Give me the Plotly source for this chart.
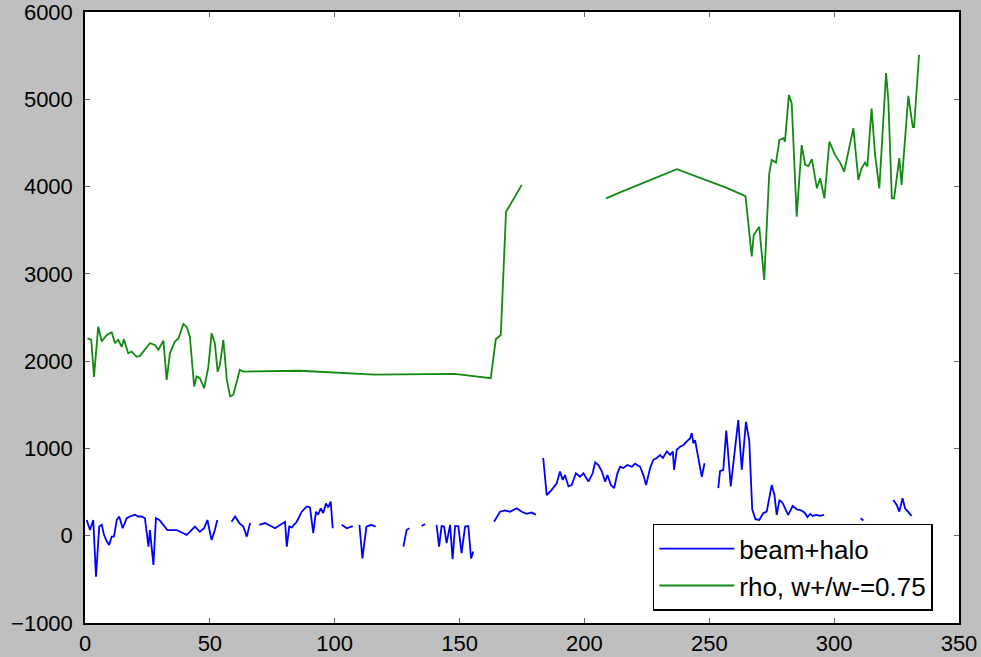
import plotly.graph_objects as go

# ---- data ----
beam_x = [0.7, 2, 3.3, 4.4, 5.7, 6.7, 7.6, 8.7, 9.7, 10.7, 11.6, 12.7, 13.7, 15.1, 16.7, 18, 20, 21.3, 22.7, 24,
          25.4, 26, 27.4, 28.4, 29.8, 31.4, 33, 36.7, 40.7, 42, 44, 46, 47.7, 49, 50.7, 52, 53, None,
          58.7, 60.1, 61.8, 63.4, 64.8, 66.1, None,
          69.8, 72.1, 74.8, 76.1, 80.1, 80.8, 81.8, 82.8, 84.8, 86.8, 88.8, 90.1, 91.4, 92.5, 93.4, 94.4, 95.4,
          96.5, 97.4, 98.4, 99.2, None,
          102.8, 104.8, 107.2, None,
          109.9, 111.1, 112.7, 114.7, 116.4, None,
          127.5, 128.8, 129.9, None,
          134.8, 136.2, None,
          140.8, 141.8, 142.8, 143.8, 144.8, 146.2, 147.2, 148.2, 149.5, 150.8, 152.2, 153.5, 154.6, 155.5, None,
          163.8, 164.9, 166.2, 168.2, 170.2, 172.9, 174.9, 176.9, 178.9, 180.6, None,
          183.5, 184.9, 186.9, 188.9, 190.2, 191.3, 192.2, 193.6, 194.9, 196.6, 198.2, 199.6, 201.6, 203.3, 204.3,
          205.6, 207, 208.3, 209.2, 210.6, 211.9, 213.2, 214.3, 215.6, 217.2, 219, 220.3, 222.3, 223.6, 224.7,
          226.3, 227.6, 229, 230.3, 231.4, 233, 234.3, 235.4, 235.9, 237, 238.3, 239.7, 241, 242.3, 243, 243.6,
          244.3, 245, 246, 247, 248.1, None,
          253.6, 254.3, 255.6, 256.8, 258.6, 261.6, 263, 264.7, 266, 267.2, 268.5, 270, 271.6, 273, 275, 276.1,
          277, 278.1, 279.4, 280.7, 281.6, 283.4, 285, 287, 288.4, 289.3, 290.4, 291.4, 292.8, 294.4, 296, None,
          310.6, 311.7, None,
          323.7, 325, 326.1, 327.4, 328.4, 329.7, 331]
beam_y = [180, 65, 180, -470, 105, 125, 10, -65, -105, -10, -10, 180, 220, 85, 200, 220, 240, 220, 220, 200,
          -125, 65, -335, 200, 180, 125, 65, 65, 10, 45, 105, 45, 85, 180, -50, 65, 180, None,
          160, 220, 145, 105, -10, 145, None,
          125, 145, 105, 85, 160, -125, 105, 95, 160, 275, 335, 325, 30, 275, 240, 315, 260,
          370, 325, 390, 85, None,
          125, 85, 110, None,
          125, -260, 105, 125, 105, None,
          -125, 65, 85, None,
          110, 135, None,
          125, -125, 110, 105, -85, 125, -270, 110, 110, -200, 105, 110, -260, -180, None,
          160, 220, 275, 290, 275, 315, 275, 250, 265, 240, None,
          890, 465, 525, 600, 735, 640, 695, 565, 580, 715, 675, 715, 620, 715, 840,
          810, 735, 620, 695, 580, 545, 715, 790, 775, 810, 790, 825, 790, 695, 580,
          775, 870, 890, 925, 890, 965, 925, 965, 755, 985, 1020, 1040, 1080, 1115, 1175, 1060,
          1095, 985, 870, 675, 830, None,
          545, 740, 755, 1205, 565, 1325, 755, 1305, 1090, 300, 190, 180, 258, 276, 580, 467,
          238, 410, 372, 296, 238, 341, 303, 288, 258, 212, 250, 227, 238, 227, 238, None,
          200, 175, None,
          410, 355, 276, 430, 315, 265, 227]

rho_x = [1, 2.5, 3.6, 5.3, 6.7, 8.7, 10.7, 12, 13.3, 14.7, 15.6, 17.3, 18.7, 20.7, 22, 24, 26, 28, 29.4, 31.4,
         32.7, 34, 36, 37.4, 39.4, 40.7, 42, 43.7, 44.7, 46, 47.7, 49.4, 50.7, 52, 53.1, 54, 55.4, 56.8, 58.1,
         59.4, 60.7, 62, 63.4, 86, 116, 148, 162.5, 164.5, 166.5, 168.6, 174.9, None,
         208.7, 214, 237, 257, 264.5, 267, 267.8, 270, 272, 274, 275, 276.7, 278.1, 279.7, 280.3, 281.9, 283,
         285, 287, 288.4, 289.7, 291.1, 293.1, 294.4, 296.1, 298.1, 300.4, 302.4, 304, 305.7, 307.7, 309.7, 311,
         312.4, 313.3, 315, 316.4, 318.1, 319.7, 320.8, 321.7, 323.1, 324, 326.1, 327, 329.7, 331.5, 332, 334]
rho_y = [2260, 2245, 1820, 2395, 2225, 2300, 2330, 2205, 2245, 2165, 2250, 2090, 2110, 2050, 2060, 2130, 2205,
         2185, 2130, 2235, 1785, 2090, 2225, 2260, 2425, 2395, 2280, 1710, 1825, 1805, 1690, 1935, 2320, 2205,
         1880, 1955, 2245, 1785, 1595, 1615, 1745, 1900, 1880, 1890, 1845, 1855, 1805, 2250, 2300, 3710, 4020, None,
         3865, 3930, 4200, 3985, 3890, 3200, 3445, 3540, 2930, 4150, 4305, 4275, 4535, 4555, 4515, 5050, 4955,
         3655, 4475, 4250, 4235, 4315, 3980, 4095, 3865, 4515, 4360, 4275, 4170, 4400, 4670, 4075, 4210,
         4275, 4230, 4895, 4360, 3980, 4765, 5300, 4990, 3865, 3865, 4325, 4020, 5040, 4680, 4680, 5510]

x_ticks = [0, 50, 100, 150, 200, 250, 300, 350]
y_ticks = [-1000, 0, 1000, 2000, 3000, 4000, 5000, 6000]

FONT = "Liberation Sans, Arial, Helvetica, sans-serif"

fig = go.Figure()
fig.add_trace(go.Scatter(x=beam_x, y=beam_y, mode="lines", name="beam+halo",
                         line=dict(color="#0000ff", width=1.8)))
fig.add_trace(go.Scatter(x=rho_x, y=rho_y, mode="lines", name="rho, w+/w-=0.75",
                         line=dict(color="#108a10", width=1.8)))

axis_common = dict(showline=True, linecolor="black", linewidth=1.5, mirror="allticks",
                   ticks="inside", ticklen=5, tickwidth=1, tickcolor="#666666",
                   showgrid=False, zeroline=False, automargin=False,
                   ticklabeloverflow="allow",
                   tickfont=dict(family=FONT, size=22, color="black"))

fig.update_layout(
    template="none",
    width=981, height=657,
    margin=dict(l=85, r=22, t=12, b=34),
    paper_bgcolor="#bfbfbf", plot_bgcolor="white",
    showlegend=True,
    legend=dict(x=0.97, y=0.02, xanchor="right", yanchor="bottom",
                bgcolor="white", bordercolor="black", borderwidth=1.5,
                font=dict(family=FONT, size=26, color="black"),
                itemwidth=75, tracegroupgap=0),
    xaxis=dict(range=[0, 350], tickvals=x_ticks, ticklabelstandoff=0, **axis_common),
    yaxis=dict(range=[-1000, 6000], tickvals=y_ticks, ticklabelstandoff=6, **axis_common),
)

fig.write_html("out.html", config={"displayModeBar": False},
               post_script="document.body.style.margin='0px';")
